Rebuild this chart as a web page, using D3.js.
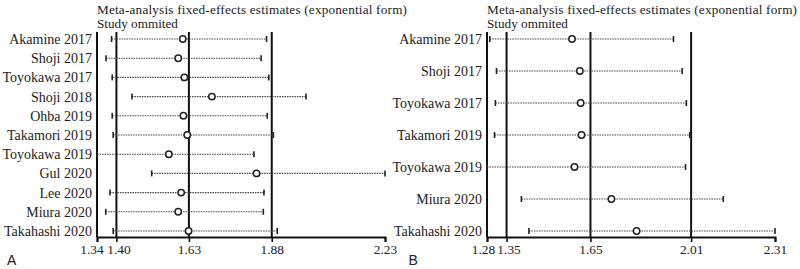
<!DOCTYPE html>
<meta charset="utf-8" />
<script src="https://d3js.org/d3.v7.min.js"></script>
<style>
  body { margin: 0; background: #fff; }
</style>
<div id="chart"></div>
<script>
  // panel A : 11 studies
  const studiesA = ["Akamine 2017", "Shoji 2017", "Toyokawa 2017", "Shoji 2018", "Ohba 2019",
    "Takamori 2019", "Toyokawa 2019", "Gul 2020", "Lee 2020", "Miura 2020", "Takahashi 2020"];
  const estA = [1.605, 1.591, 1.610, 1.695, 1.607, 1.619, 1.562, 1.833, 1.600, 1.591, 1.623];
  const lowA = [1.385, 1.368, 1.387, 1.448, 1.387, 1.390, 1.340, 1.509, 1.380, 1.367, 1.390];
  const highA = [1.864, 1.847, 1.871, 1.986, 1.866, 1.885, 1.825, 2.230, 1.856, 1.854, 1.897];
  const ticksA = [1.34, 1.40, 1.624, 1.88, 2.23];
  const tickLabelsA = ["1.34", "1.40", "1.63", "1.88", "2.23"];

  // panel B : 7 studies
  const studiesB = ["Akamine 2017", "Shoji 2017", "Toyokawa 2017", "Takamori 2019",
    "Toyokawa 2019", "Miura 2020", "Takahashi 2020"];
  const estB = [1.584, 1.612, 1.615, 1.618, 1.593, 1.725, 1.815];
  const lowB = [1.290, 1.314, 1.310, 1.307, 1.280, 1.403, 1.430];
  const highB = [1.947, 1.978, 1.993, 2.005, 1.990, 2.125, 2.310];
  const ticksB = [1.28, 1.35, 1.65, 2.01, 2.31];
  const tickLabelsB = ["1.28", "1.35", "1.65", "2.01", "2.31"];

  const W = 800, H = 269;
  const svg = d3.select("#chart").append("svg")
    .attr("width", W).attr("height", H);

  const font = "'Liberation Serif', 'Times New Roman', serif";

  function drawPanel(left, studies, est, low, high, ticks, tickLabels, letter, letterX, shift) {
    const g = svg.append("g");
    const x = d3.scaleLinear()
      .domain([ticks[0], ticks[ticks.length - 1]])
      .range([left, left + 288]);
    const y = d3.scalePoint().domain(studies).range([39, 231]);
    const top = 32, bottom = 237;

    // titles
    g.append("text").attr("x", left).attr("y", 13.6)
      .style("font-family", font).style("font-size", "13.2px").attr("fill", "#222")
      .attr("textLength", 310).attr("lengthAdjust", "spacing")
      .text("Meta-analysis fixed-effects estimates (exponential form)");
    g.append("text").attr("x", left).attr("y", 28.4)
      .style("font-family", font).style("font-size", "13.2px").attr("fill", "#222")
      .text("Study ommited");

    // reference lines (CI bounds + overall estimate)
    g.selectAll(".ref").data(ticks.slice(1, 4)).join("line")
      .attr("x1", d => x(d)).attr("x2", d => x(d))
      .attr("y1", top).attr("y2", bottom)
      .attr("stroke", "#111").attr("stroke-width", 2);

    // left axis line
    g.append("line").attr("x1", x.range()[0]).attr("x2", x.range()[0])
      .attr("y1", top).attr("y2", bottom)
      .attr("stroke", "#111").attr("stroke-width", 2);

    // x axis
    const xAxis = d3.axisBottom(x).tickValues(ticks)
      .tickFormat((d, i) => tickLabels[i]).tickSizeOuter(0).tickSize(5).tickPadding(2);
    const ax = g.append("g").attr("transform", `translate(0,${bottom})`).call(xAxis);
    ax.select(".domain").attr("stroke", "#111").attr("stroke-width", 2);
    ax.selectAll(".tick line").attr("stroke", "#111").attr("stroke-width", 1.6);
    ax.selectAll(".tick text").style("font-family", font).style("font-size", "13.4px")
      .attr("fill", "#222");
    // first two ticks are close: push the labels apart
    ax.selectAll(".tick text").each(function (d, i) {
      if (i < 2) d3.select(this).attr("dx", shift[i]);
    });

    // study labels
    g.selectAll(".lab").data(studies).join("text")
      .attr("x", left - 5).attr("y", d => y(d)).attr("dy", "0.35em")
      .attr("text-anchor", "end")
      .style("font-family", font).style("font-size", "14px").attr("fill", "#222")
      .text(d => d);

    // CI lines
    g.selectAll(".ci").data(studies).join("line")
      .attr("x1", (d, i) => x(low[i])).attr("x2", (d, i) => x(high[i]))
      .attr("y1", d => y(d)).attr("y2", d => y(d))
      .attr("stroke", "#444").attr("stroke-width", 1.1)
      .attr("stroke-dasharray", "1.5,1");

    // end caps
    const caps = [];
    studies.forEach((s, i) => { caps.push([s, low[i]]); caps.push([s, high[i]]); });
    g.selectAll(".cap").data(caps).join("line")
      .attr("x1", d => x(d[1])).attr("x2", d => x(d[1]))
      .attr("y1", d => y(d[0]) - 3).attr("y2", d => y(d[0]) + 3)
      .attr("stroke", "#222").attr("stroke-width", 1.6);

    // point estimates
    g.selectAll(".pt").data(studies).join("circle")
      .attr("cx", (d, i) => x(est[i])).attr("cy", d => y(d))
      .attr("r", 3.2).attr("fill", "#fff")
      .attr("stroke", "#222").attr("stroke-width", 1.5);

    // panel letter
    svg.append("text").attr("x", letterX).attr("y", 264.5)
      .style("font-family", "'Liberation Sans', Arial, sans-serif").style("font-size", "14px")
      .attr("fill", "#222").text(letter);
  }

  drawPanel(97, studiesA, estA, lowA, highA, ticksA, tickLabelsA, "A", 7, [-5.5, 2]);
  drawPanel(487, studiesB, estB, lowB, highB, ticksB, tickLabelsB, "B", 408.5, [-4, 2]);
</script>
